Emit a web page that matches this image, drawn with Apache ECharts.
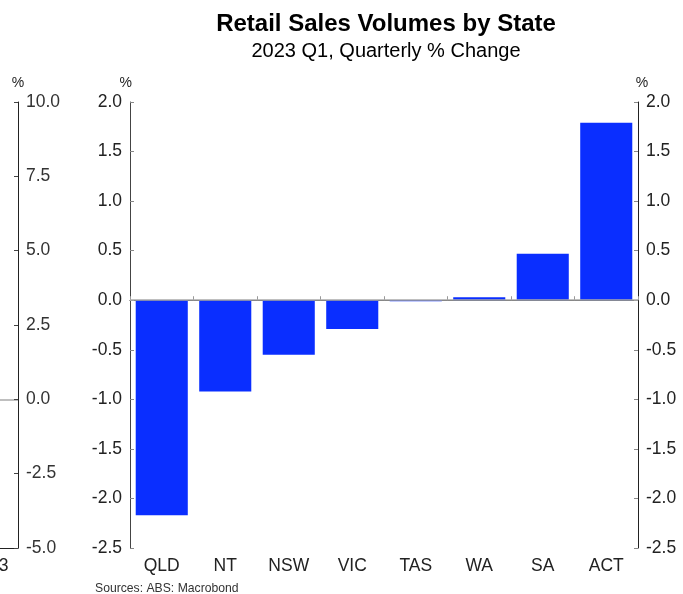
<!DOCTYPE html>
<html>
<head>
<meta charset="utf-8">
<script src="https://cdn.jsdelivr.net/npm/echarts@6/dist/echarts.min.js"></script>
<style>
html,body{margin:0;padding:0;background:#fff;}
#c{width:683px;height:594px;}
</style>
</head>
<body>
<div id="c"></div>
<script>
var categories = ['QLD', 'NT', 'NSW', 'VIC', 'TAS', 'WA', 'SA', 'ACT'];
var values = [-2.17, -0.92, -0.55, -0.29, -0.01, 0.03, 0.47, 1.79];
var mainTicks = { min: -2.5, max: 2.0, interval: 0.5 };
var leftTicks = { min: -5.0, max: 10.0, interval: 2.5 };
var leftYears = { min: 2013, max: 2024, interval: 5, labels: [2013, 2018, 2023] };

var FONT = '"Liberation Sans", Arial, sans-serif';
var FS = 17.5;
var chart = echarts.init(document.getElementById('c'), null, { renderer: 'canvas' });

// split-line colours: only the zero line is visible on the left panel
var leftSplitColors = [];
for (var t = leftTicks.min; t <= leftTicks.max + 1e-9; t += leftTicks.interval) {
  leftSplitColors.push(Math.abs(t) < 1e-9 ? '#aaa' : 'rgba(0,0,0,0)');
}

chart.setOption({
  animation: false,
  backgroundColor: '#ffffff',
  textStyle: { fontFamily: FONT },
  title: [
    { text: 'Retail Sales Volumes by State', left: 386, top: 12, textAlign: 'center', padding: 0,
      textStyle: { fontFamily: FONT, fontSize: 24, fontWeight: 'bold', color: '#000' } },
    { text: '2023 Q1, Quarterly % Change', left: 386, top: 41, textAlign: 'center', padding: 0,
      textStyle: { fontFamily: FONT, fontSize: 20, fontWeight: 'normal', color: '#000' } },
    { text: 'Sources: ABS: Macrobond', left: 95, top: 583, padding: 0,
      textStyle: { fontFamily: FONT, fontSize: 12.2, fontWeight: 'normal', color: '#333' } }
  ],
  grid: [
    { left: 130, right: 45, top: 102, bottom: 46, outerBoundsMode: 'none', containLabel: false },
    { left: -300, right: 665, top: 102, bottom: 46, outerBoundsMode: 'none', containLabel: false }
  ],
  xAxis: [
    { type: 'category', gridIndex: 0, data: categories,
      axisLine: { lineStyle: { color: '#222', width: 1 } },
      axisTick: { show: true, inside: true, length: 4, lineStyle: { color: '#999' } },
      axisLabel: { color: '#222', fontSize: FS, margin: 9, fontFamily: FONT },
      splitLine: { show: false } },
    { type: 'value', gridIndex: 1, min: leftYears.min, max: leftYears.max, interval: leftYears.interval,
      axisLine: { show: true, onZero: false, lineStyle: { color: '#222', width: 1 } },
      axisTick: { show: false },
      axisLabel: { color: '#222', fontSize: FS, margin: 9, fontFamily: FONT,
        formatter: function (v) { return leftYears.labels.indexOf(v) >= 0 ? String(v) : ''; } },
      splitLine: { show: false } }
  ],
  yAxis: [
    { type: 'value', gridIndex: 0, position: 'left', min: mainTicks.min, max: mainTicks.max, interval: mainTicks.interval,
      name: '%', nameLocation: 'end', nameGap: 12,
      nameTextStyle: { color: '#222', fontSize: 14, align: 'right', padding: [0, -2, 0, 0] },
      axisLine: { show: true, lineStyle: { color: '#444', width: 1 } },
      axisTick: { show: true, inside: true, length: 4, lineStyle: { color: '#888' } },
      axisLabel: { color: '#222', fontSize: FS, margin: 8, fontFamily: FONT,
        formatter: function (v) { return v.toFixed(1); } },
      splitLine: { show: false } },
    { type: 'value', gridIndex: 0, position: 'right', min: mainTicks.min, max: mainTicks.max, interval: mainTicks.interval,
      name: '%', nameLocation: 'end', nameGap: 12,
      nameTextStyle: { color: '#222', fontSize: 14, align: 'center', padding: [0, 0, 0, 8] },
      axisLine: { show: true, lineStyle: { color: '#222', width: 1 } },
      axisTick: { show: true, inside: true, length: 4, lineStyle: { color: '#888' } },
      axisLabel: { color: '#222', fontSize: FS, margin: 8, fontFamily: FONT,
        formatter: function (v) { return v.toFixed(1); } },
      splitLine: { show: false } },
    { type: 'value', gridIndex: 1, position: 'right', min: leftTicks.min, max: leftTicks.max, interval: leftTicks.interval,
      name: '%', nameLocation: 'end', nameGap: 12,
      nameTextStyle: { color: '#222', fontSize: 14, align: 'center' },
      axisLine: { show: true, lineStyle: { color: '#222', width: 1 } },
      axisTick: { show: true, inside: true, length: 4, lineStyle: { color: '#444', width: 1 } },
      axisLabel: { color: '#333', fontSize: FS, margin: 8, fontFamily: FONT,
        formatter: function (v) { return v.toFixed(1); } },
      splitLine: { show: true, lineStyle: { color: leftSplitColors, width: 1.5 } } }
  ],
  series: [
    { type: 'bar', xAxisIndex: 0, yAxisIndex: 0, data: values, barCategoryGap: '18%',
      itemStyle: { color: '#0a2eff' }, z: 2,
      markLine: { silent: true, symbol: 'none', label: { show: false },
        lineStyle: { color: '#aaa', width: 1.5, type: 'solid' }, data: [{ yAxis: 0 }] } }
  ]
});
</script>
</body>
</html>
